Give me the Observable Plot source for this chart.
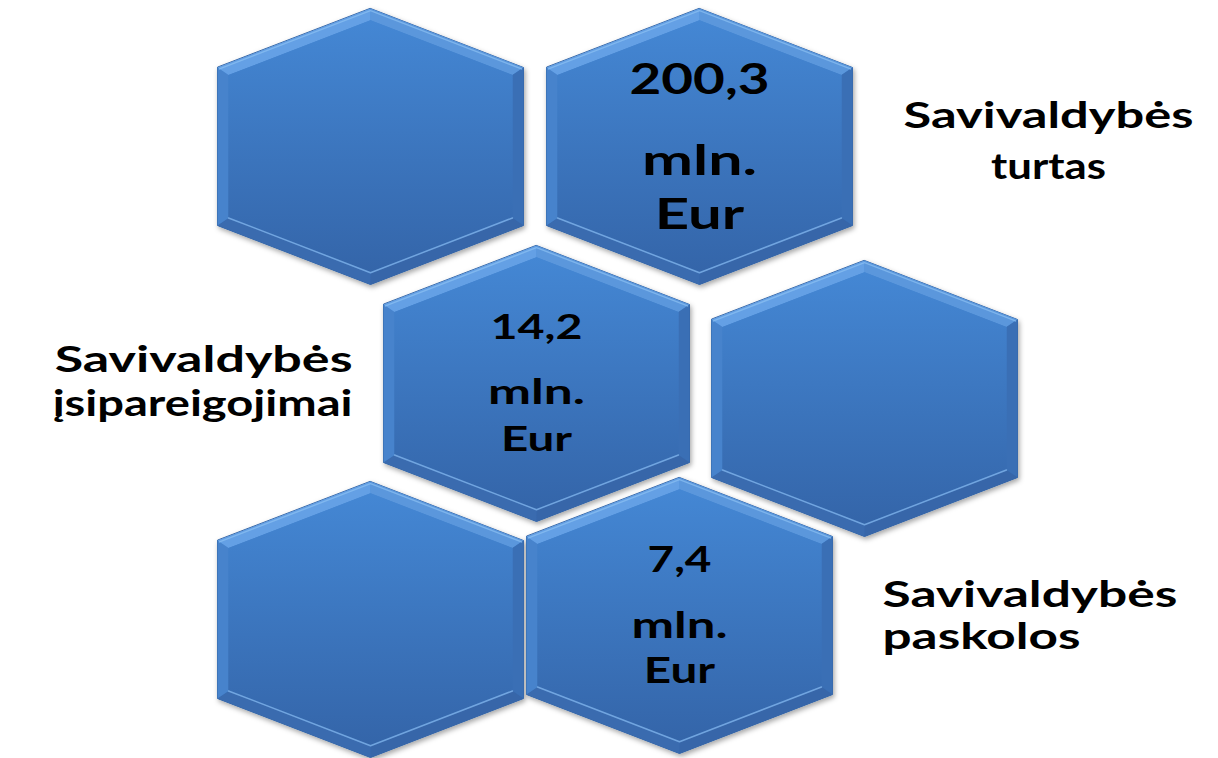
<!DOCTYPE html>
<html>
<head>
<meta charset="utf-8">
<script src="https://cdn.jsdelivr.net/npm/d3@7"></script>
<script src="https://cdn.jsdelivr.net/npm/@observablehq/plot@0.6"></script>
<style>
  html, body { margin: 0; padding: 0; background: #ffffff; }
  #chart { width: 1218px; height: 758px; }
</style>
</head>
<body>
<div id="chart"></div>
<script>
// ---------- DATA ----------
const categories = ["Savivaldybės turtas", "Savivaldybės įsipareigojimai", "Savivaldybės paskolos"];
const values = [200.3, 14.2, 7.4];
const unitLines = ["mln.", "Eur"];
const hexCount = 6;                    // six cells in the hexagon cluster
const valueCell = [1, 2, 5];           // cell that carries each value

// ---------- LAYOUT (diagram geometry, kept out of the data) ----------
const W = 1218, H = 758;
const hexW = 306, hexH = 276, hexC = 59, bevel = 11;
const cellCenter = [[370, 146], [699, 146], [536, 383], [864, 398], [370, 619], [679, 615]];
// per value block: font size, vertical offsets of the three lines, target widths of the three lines
const valueStyle = [
  {size: 42, dy: [-66, 15, 69], w: [140, 115, 90]},
  {size: 35, dy: [-55.5, 9.5, 56.5], w: [92, 97, 71]},
  {size: 36, dy: [-55.5, 10.5, 55.5], w: [64, 96, 72]}
];
// per label: anchor x, text-anchor, y of each line, width of each line
const labelLayout = [
  {x: 1048, anchor: "middle", y: [116, 166.5], w: [290, 115]},
  {x: 352, anchor: "end", y: [360, 403.5], w: [298, 300]},
  {x: 882, anchor: "start", y: [595, 636.5], w: [295, 198]}
];
const FONT = "Lato, 'Open Sans', sans-serif";

const loc = d3.formatLocale({decimal: ",", thousands: " ", grouping: [3], currency: ["", " €"]});
const fmt = loc.format(".1f");

function outerVerts(cx, cy) {
  return [
    [cx, cy - hexH / 2],
    [cx + hexW / 2, cy - hexH / 2 + hexC],
    [cx + hexW / 2, cy + hexH / 2 - hexC],
    [cx, cy + hexH / 2],
    [cx - hexW / 2, cy + hexH / 2 - hexC],
    [cx - hexW / 2, cy - hexH / 2 + hexC]
  ];
}
function insetVerts(v, d) {
  const n = v.length, lines = [];
  for (let i = 0; i < n; i++) {
    const a = v[i], b = v[(i + 1) % n];
    const ex = b[0] - a[0], ey = b[1] - a[1], L = Math.hypot(ex, ey);
    const nx = -ey / L, ny = ex / L;
    lines.push({p: [a[0] + nx * d, a[1] + ny * d], e: [ex, ey]});
  }
  const out = [];
  for (let i = 0; i < n; i++) {
    const l1 = lines[(i - 1 + n) % n], l2 = lines[i];
    const det = l1.e[0] * (-l2.e[1]) - l1.e[1] * (-l2.e[0]);
    const rx = l2.p[0] - l1.p[0], ry = l2.p[1] - l1.p[1];
    const t = (rx * (-l2.e[1]) - ry * (-l2.e[0])) / det;
    out.push([l1.p[0] + l1.e[0] * t, l1.p[1] + l1.e[1] * t]);
  }
  return out;
}

const outerRows = [], innerRows = [];
const stripRows = [[], [], [], [], [], []];
const innerLight = [], topLight = [];
d3.range(hexCount).forEach(k => {
  const [cx, cy] = cellCenter[k];
  const o = outerVerts(cx, cy), ins = insetVerts(o, bevel);
  o.forEach(p => outerRows.push({x: p[0], y: p[1], id: k}));
  ins.forEach(p => innerRows.push({x: p[0], y: p[1], id: k}));
  for (let e = 0; e < 6; e++) {
    const q = [o[e], o[(e + 1) % 6], ins[(e + 1) % 6], ins[e]];
    q.forEach(p => stripRows[e].push({x: p[0], y: p[1], id: k}));
  }
  [ins[2], ins[3], ins[4]].forEach(p => innerLight.push({x: p[0], y: p[1], id: k}));
  const o2 = insetVerts(o, 2);
  [o2[5], o2[0], o2[1]].forEach(p => topLight.push({x: p[0], y: p[1], id: k}));
});
const stripColors = ["#5b97dc", "#3a6fb5", "#3766a9", "#3a6baf", "#4783cc", "#64a0e5"];

const valueRows = values.map((v, i) => {
  const [cx, cy] = cellCenter[valueCell[i]];
  return {x: cx, y: cy, v: fmt(v), s: valueStyle[i]};
});
const textLine = (r, line) => Plot.text([r], {
  x: "x", y: d => d.y + d.s.dy[line],
  text: d => line === 0 ? d.v : unitLines[line - 1],
  fontSize: r.s.size, fontWeight: 700, fill: "#000", fontFamily: FONT
});

// label lines: first word, then the rest
const labelLines = categories.map((c, i) => {
  const k = c.indexOf(" ");
  return [c.slice(0, k), c.slice(k + 1)].map((t, j) => ({t, i, j}));
});

const plot = Plot.plot({
  width: W, height: H,
  margin: 0,
  x: {domain: [0, W], range: [0, W], axis: null},
  y: {domain: [0, H], range: [0, H], axis: null},
  style: {background: "#ffffff", fontFamily: FONT},
  marks: [
    Plot.line(outerRows, {x: "x", y: "y", z: "id", curve: "linear-closed", fill: "url(#faceGrad)", stroke: "#3566a6", strokeWidth: 1}),
    ...stripRows.map((rows, e) => Plot.line(rows, {x: "x", y: "y", z: "id", curve: "linear-closed", fill: stripColors[e], stroke: "none"})),
    Plot.line(innerRows, {x: "x", y: "y", z: "id", curve: "linear-closed", fill: "url(#faceGrad)", stroke: "none"}),
    Plot.line(innerLight, {x: "x", y: "y", z: "id", stroke: "#80b4ec", strokeWidth: 1.5, strokeOpacity: 0.8}),
    Plot.line(topLight, {x: "x", y: "y", z: "id", stroke: "#8cc0f2", strokeWidth: 1.5, strokeOpacity: 0.7}),
    // value blocks
    ...valueRows.flatMap(r => [0, 1, 2].map(line => textLine(r, line))),
    // category labels
    ...labelLines.map((rows, i) => Plot.text(rows, {
      x: () => labelLayout[i].x,
      y: d => labelLayout[i].y[d.j],
      text: "t",
      textAnchor: labelLayout[i].anchor,
      fontSize: 37, fontWeight: 700, fill: "#000", fontFamily: FONT
    }))
  ]
});

const ns = "http://www.w3.org/2000/svg";
const defs = document.createElementNS(ns, "defs");
defs.innerHTML = `
  <linearGradient id="faceGrad" x1="0" y1="0" x2="0" y2="1">
    <stop offset="0" stop-color="#4487d4"/>
    <stop offset="1" stop-color="#3465a9"/>
  </linearGradient>
  <filter id="hexShadow" x="-10%" y="-10%" width="125%" height="125%">
    <feDropShadow dx="1.5" dy="2.5" stdDeviation="2.5" flood-color="#000" flood-opacity="0.35"/>
  </filter>`;
plot.insertBefore(defs, plot.firstChild);
document.getElementById("chart").appendChild(plot);

const lineGroups = plot.querySelectorAll('g[aria-label="line"]');
if (lineGroups.length) lineGroups[0].setAttribute("filter", "url(#hexShadow)");

// horizontal stretch of each text line to the width it has in the picture
function stretch(el, target) {
  const bb = el.getBBox();
  const w = bb.width;
  if (!w) return;
  const sx = target / w;
  const anchor = el.getAttribute("text-anchor") || (el.parentNode && el.parentNode.getAttribute("text-anchor")) || "middle";
  let ax = bb.x + bb.width / 2;
  if (anchor === "start") ax = bb.x;
  if (anchor === "end") ax = bb.x + bb.width;
  const tr = el.getAttribute("transform") || "";
  el.setAttribute("transform", `${tr} translate(${ax},0) scale(${sx},1) translate(${-ax},0)`);
}
const textGroups = Array.from(plot.querySelectorAll('g[aria-label="text"]'));
let gi = 0;
valueRows.forEach(r => {
  [0, 1, 2].forEach(line => {
    const t = textGroups[gi++].querySelector("text");
    if (t) stretch(t, r.s.w[line]);
  });
});
labelLines.forEach((rows, i) => {
  const ts = textGroups[gi++].querySelectorAll("text");
  ts.forEach((t, j) => stretch(t, labelLayout[i].w[j]));
});
</script>
</body>
</html>
